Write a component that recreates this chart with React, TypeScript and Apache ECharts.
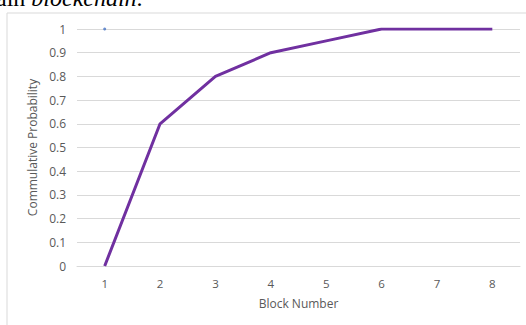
import React, { useEffect, useRef } from "react";
import * as echarts from "echarts";

const blocks = ["1", "2", "3", "4", "5", "6", "7", "8"];
const probability = [0, 0.6, 0.8, 0.9, 0.95, 1, 1, 1];
const markerPoint = [1, null, null, null, null, null, null, null];
const yTicks = [0, 0.1, 0.2, 0.3, 0.4, 0.5, 0.6, 0.7, 0.8, 0.9, 1];

export default function App() {
  const ref = useRef<HTMLDivElement>(null);
  useEffect(() => {
    document.body.style.margin = "0";
    const chart = echarts.init(ref.current!, null, { renderer: "svg" });
    const font = "'Open Sans', 'Liberation Sans', sans-serif";
    chart.setOption({
      animation: false,
      backgroundColor: "#ffffff",
      graphic: [
        {
          type: "rect",
          shape: { x: 7, y: 13, width: 540, height: 340 },
          style: { fill: "none", stroke: "#d9d9d9", lineWidth: 1 },
          z: -1,
        },
        {
          type: "text",
          x: -4,
          y: 10,
          style: {
            text: "{r|ain }{i|blockchain}{r|.}",
            textVerticalAlign: "bottom",
            verticalAlign: "bottom",
            rich: {
              r: { fontFamily: "'Liberation Serif', serif", fontSize: 24, fill: "#000" },
              i: { fontFamily: "'Liberation Serif', serif", fontSize: 24, fontStyle: "italic", fill: "#000" },
            },
          },
        },
      ],
      grid: { left: 77, right: 6, top: 29, bottom: 59, containLabel: false },
      xAxis: {
        type: "category",
        data: blocks,
        boundaryGap: true,
        name: "Block Number",
        nameLocation: "middle",
        nameGap: 31,
        nameTextStyle: { color: "#595959", fontSize: 12, fontFamily: font },
        axisLine: { lineStyle: { color: "#d9d9d9", width: 1 } },
        axisTick: { show: false },
        axisLabel: { color: "#595959", fontSize: 11.5, fontFamily: font, margin: 11 },
        splitLine: { show: false },
      },
      yAxis: {
        type: "value",
        min: 0,
        max: 1,
        interval: 0.1,
        name: "Commulative Probability",
        nameLocation: "middle",
        nameGap: 37,
        nameTextStyle: { color: "#595959", fontSize: 12, fontFamily: font },
        axisLine: { show: false },
        axisTick: { show: false },
        axisLabel: {
          color: "#595959",
          fontSize: 12,
          fontFamily: font,
          margin: 11,
          formatter: (v: number) => {
            const t = yTicks.find((y) => Math.abs(y - v) < 1e-9);
            return t === undefined ? "" : String(t);
          },
        },
        splitLine: { lineStyle: { color: "#d9d9d9", width: 1 } },
      },
      series: [
        {
          type: "line",
          data: probability,
          symbol: "none",
          lineStyle: { color: "#7030a0", width: 3 },
          itemStyle: { color: "#7030a0" },
          z: 3,
        },
        {
          type: "scatter",
          data: markerPoint,
          symbol: "circle",
          symbolSize: 3,
          itemStyle: { color: "#4472c4" },
          z: 4,
        },
      ],
    });
    return () => chart.dispose();
  }, []);
  return <div ref={ref} style={{ width: 526, height: 325 }} />;
}
